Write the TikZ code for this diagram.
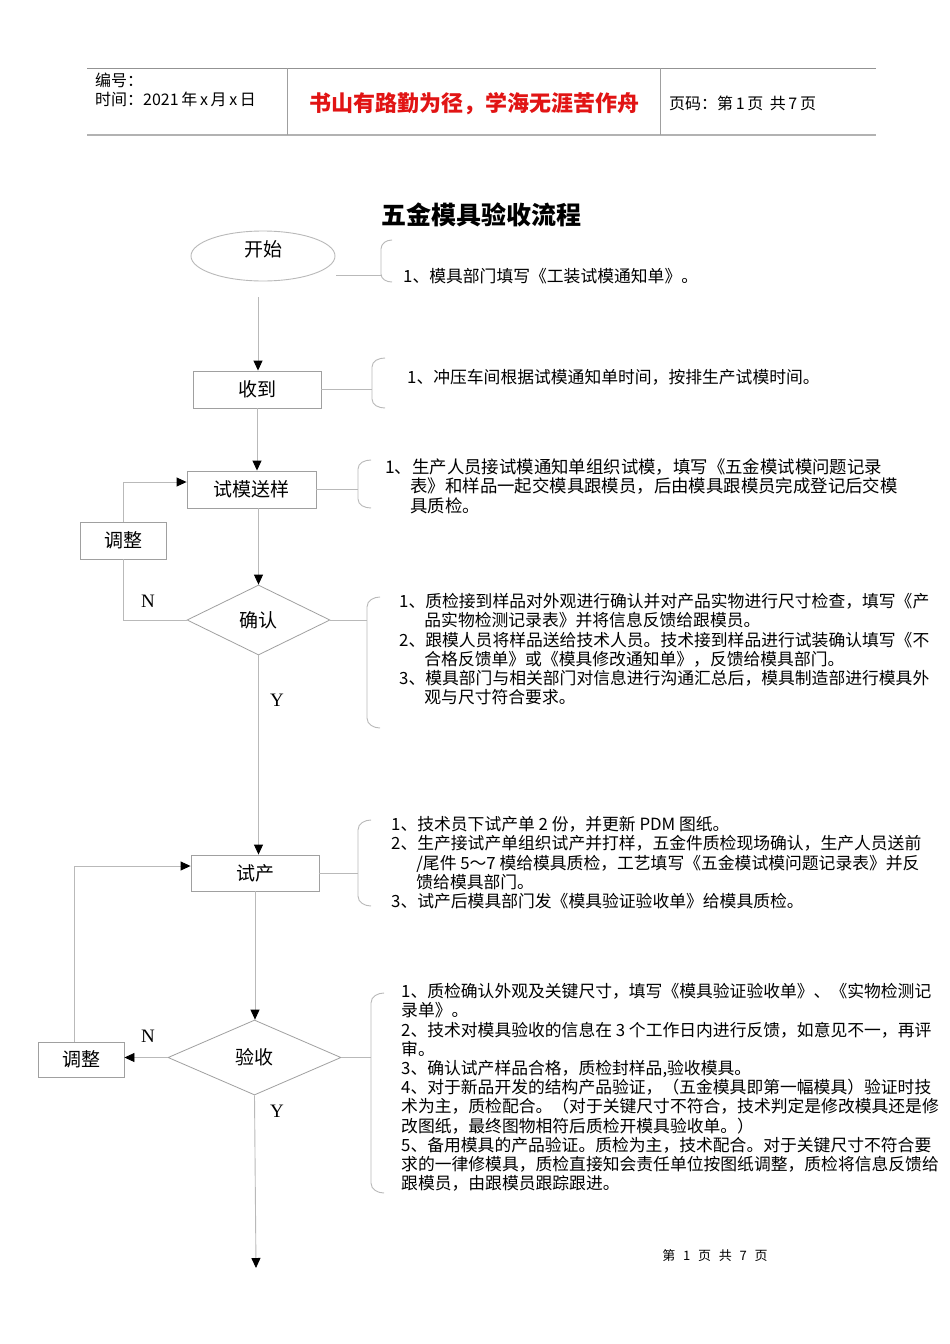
\documentclass[tikz,border=0pt]{standalone}
\usepackage{fontspec}
\setmainfont{Liberation Serif}
\newfontfamily\cjk{Noto Sans CJK SC}
\usetikzlibrary{arrows.meta,shapes.geometric}
\definecolor{lngray}{RGB}{185,185,185}
\definecolor{boxgray}{RGB}{160,160,160}
\definecolor{hdrred}{RGB}{225,20,20}
\begin{document}
\begin{tikzpicture}[x=1pt,y=-1pt,
  ln/.style={draw=lngray, line width=0.9pt},
  arr/.style={ln, -{Triangle[length=10pt,width=9pt,color=black]}},
  box/.style={draw=boxgray, line width=0.9pt, inner sep=0pt, font=\cjk\fontsize{19}{22}\selectfont},
  dia/.style={diamond, draw=boxgray, line width=0.8pt, inner sep=0pt, font=\cjk\fontsize{19}{22}\selectfont},
  ann/.style={anchor=north west, inner sep=0pt, align=left, font=\cjk\fontsize{16.8}{19.2}\selectfont},
  yn/.style={inner sep=0pt, font=\fontsize{19}{22}\selectfont},
  hdr/.style={inner sep=0pt, font=\cjk\fontsize{16}{18}\selectfont}
]
\useasboundingbox[fill=white] (0,0) rectangle (950,1344);

% header
\draw[draw=gray!85, line width=1pt] (87,68) -- (876,68);
\draw[draw=gray!60, line width=2pt] (87,135) -- (876,135);
\draw[draw=gray!75, line width=1pt] (287,68) -- (287,135);
\draw[draw=gray!75, line width=1pt] (660,68) -- (660,135);
\node[hdr, anchor=west] (h1) at (95,80) {编号：};
\node[hdr, anchor=west] (h2) at (95,99) {时间：2021\,年\,x\,月\,x\,日};
\node[inner sep=0pt, text=hdrred, font=\cjk\bfseries\fontsize{22}{24}\selectfont] (h3) at (474,104) {书山有路勤为径，学海无涯苦作舟};
\node[hdr, anchor=west] (h4) at (669,103) {页码：第\,1\,页\hspace{0.4em}共\,7\,页};

% title
\node[inner sep=0pt, font=\cjk\bfseries\fontsize{25}{28}\selectfont] (title) at (481,215) {五金模具验收流程};

% flow nodes
\node[ellipse, draw=lngray, line width=0.9pt, minimum width=144pt, minimum height=50pt, inner sep=0pt, font=\cjk\fontsize{19}{22}\selectfont] (start) at (263,256) {\raisebox{0pt}[0pt][0pt]{开始}};
\node[box, minimum width=128pt, minimum height=37pt] (rec) at (257,389.5) {收到};
\node[box, minimum width=129pt, minimum height=37pt] (tm) at (251.5,489.5) {试模送样};
\node[dia, minimum width=143pt, minimum height=70pt] (cf) at (258.5,620) {确认};
\node[box, minimum width=86pt, minimum height=37pt] (adj1) at (123,540.5) {调整};
\node[box, minimum width=128pt, minimum height=36pt] (sc) at (255,873) {试产};
\node[dia, minimum width=173pt, minimum height=75pt] (ys) at (254.5,1057.5) {验收};
\node[box, minimum width=86pt, minimum height=35pt] (adj2) at (81,1059.5) {调整};

% yes/no labels
\node[yn] (n1) at (148,601) {N};
\node[yn] (y1) at (277,700) {Y};
\node[yn] (n2) at (148,1036) {N};
\node[yn] (y2) at (277,1111) {Y};

% connectors
\coordinate (s1) at (258,297);
\coordinate (end) at (256,1268);
\draw[arr] (s1) -- (s1 |- rec.north);
\draw[arr] (rec.south) -- (rec.south |- tm.north);
\draw[arr] (tm.south -| cf.north) -- (cf.north);
\draw[arr] (cf.south) -- (cf.south |- sc.north);
\draw[arr] (sc.south) -- (sc.south |- ys.north);
\draw[arr] (ys.south) -- (end);
\draw[ln] (cf.west) -| (adj1.south);
\draw[arr] (adj1.north) |- ([yshift=7.5pt]tm.west);
\draw[arr] (ys.west) -- (ys.west -| adj2.east);
\draw[arr] ([xshift=-7pt]adj2.north) |- ([yshift=7pt]sc.west);

% brackets
\coordinate (b0) at (381,275);
\coordinate (b1) at (372,389.5);
\coordinate (b2) at (358,489.5);
\coordinate (b3) at (367,620);
\coordinate (b4) at (358,873);
\coordinate (b5) at (371,1057.5);
\coordinate (s0) at (336,275);
\draw[ln] (s0) -- (b0);
\draw[ln] (rec.east) -- (b1);
\draw[ln] (tm.east) -- (b2);
\draw[ln] (cf.east) -- (b3);
\draw[ln] (sc.east) -- (b4);
\draw[ln] (ys.east) -- (b5);
\draw[ln] (392,240) to[out=180,in=90] (381,249) -- (381,274) to[out=270,in=180] (392,282);
\draw[ln] (385,358) to[out=180,in=90] (372,367) -- (372,399) to[out=270,in=180] (385,408);
\draw[ln] (371,460) to[out=180,in=90] (358,469) -- (358,499) to[out=270,in=180] (371,508);
\draw[ln] (380,597) to[out=180,in=90] (367,607) -- (367,718) to[out=270,in=180] (380,728);
\draw[ln] (371,820) to[out=180,in=90] (358,830) -- (358,896) to[out=270,in=180] (371,906);
\draw[ln] (384,993) to[out=180,in=90] (371,1003) -- (371,1183) to[out=270,in=180] (384,1193);

% annotations
\node[ann] (a0) at (403,267.4) {\rule{0pt}{15pt}1、模具部门填写《工装试模通知单》。};
\node[ann] (a1) at (407,368.4) {\rule{0pt}{15pt}1、冲压车间根据试模通知单时间，按排生产试模时间。};
\node[ann, font=\cjk\fontsize{17.4}{19.2}\selectfont] (a2) at (385,458.4) {\rule{0pt}{15pt}1、生产人员接试模通知单组织试模，填写《五金模试模问题记录\\
\hspace*{1.45em}表》和样品一起交模具跟模员，后由模具跟模员完成登记后交模\\
\hspace*{1.45em}具质检。};
\node[ann] (a3) at (399,592.4) {\rule{0pt}{15pt}1、质检接到样品对外观进行确认并对产品实物进行尺寸检查，填写《产\\
\hspace*{1.5em}品实物检测记录表》并将信息反馈给跟模员。\\
2、跟模人员将样品送给技术人员。技术接到样品进行试装确认填写《不\\
\hspace*{1.5em}合格反馈单》或《模具修改通知单》，反馈给模具部门。\\
3、模具部门与相关部门对信息进行沟通汇总后，模具制造部进行模具外\\
\hspace*{1.5em}观与尺寸符合要求。};
\node[ann] (a4) at (391,815.4) {\rule{0pt}{15pt}1、技术员下试产单 2 份，并更新 PDM 图纸。\\
2、生产接试产单组织试产并打样，五金件质检现场确认，生产人员送前\\
\hspace*{1.5em}/尾件 5～7 模给模具质检，工艺填写《五金模试模问题记录表》并反\\
\hspace*{1.5em}馈给模具部门。\\
3、试产后模具部门发《模具验证验收单》给模具质检。};
\node[ann] (a5) at (401,982.4) {\rule{0pt}{15pt}1、质检确认外观及关键尺寸，填写《模具验证验收单》、《实物检测记\\
录单》。\\
2、技术对模具验收的信息在 3 个工作日内进行反馈，如意见不一，再评\\
审。\\
3、确认试产样品合格，质检封样品,验收模具。\\
4、对于新品开发的结构产品验证，（五金模具即第一幅模具）验证时技\\
术为主，质检配合。（对于关键尺寸不符合，技术判定是修改模具还是修\\
改图纸，最终图物相符后质检开模具验收单。）\\
5、备用模具的产品验证。质检为主，技术配合。对于关键尺寸不符合要\\
求的一律修模具，质检直接知会责任单位按图纸调整，质检将信息反馈给\\
跟模员，由跟模员跟踪跟进。};

% footer
\node[inner sep=0pt, font=\cjk\fontsize{13}{15}\selectfont] (foot) at (715,1256) {第\hspace{0.6em}1\hspace{0.6em}页\hspace{0.6em}共\hspace{0.6em}7\hspace{0.6em}页};
\end{tikzpicture}
\end{document}
